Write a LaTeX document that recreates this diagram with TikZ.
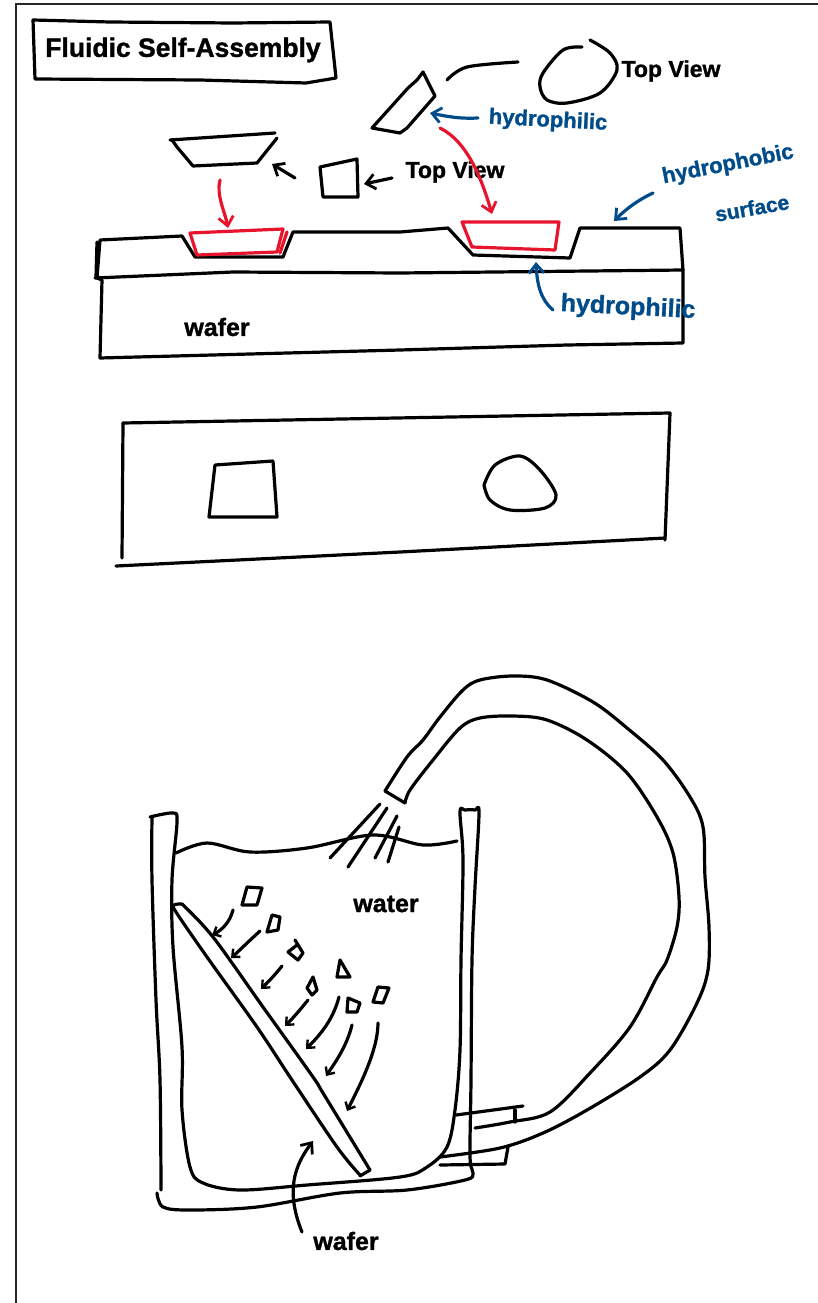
\documentclass[tikz,border=0pt]{standalone}
\usepackage{fontspec}
\setmainfont[FakeBold=1.2]{Liberation Sans}
\usetikzlibrary{arrows.meta}
\definecolor{penblue}{HTML}{004C8A}
\definecolor{penred}{HTML}{E8142D}
\tikzset{
  pen/.style={black,line width=3.2pt,line cap=round,line join=round},
  curve/.style={pen,smooth,tension=.55},
  redpen/.style={pen,penred},
  bluepen/.style={pen,penblue},
  barb/.style={-{Straight Barb[length=9pt,width=15pt,line width=2.8pt]}},
  smallbarb/.style={-{Straight Barb[length=6pt,width=11pt,line width=2.4pt]}},
  txt/.style={inner sep=0pt,font=\bfseries\fontsize{25}{25}\selectfont},
  bluetxt/.style={txt,text=penblue,font=\bfseries\fontsize{22}{22}\selectfont},
  frame/.style={line width=2pt,draw=black!85}
}
\begin{document}
\begin{tikzpicture}[x=1pt,y=-1pt]
\useasboundingbox (0,0) rectangle (818,1303);
\fill[white] (0,0) rectangle (818,1303);
% page edge
\draw[frame] (16,1303) -- (16,4) -- (818,4);
% title
\draw[pen] (33,20) -- (110,22) -- (233,23) -- (330,22) -- (336,78) -- (306,83) -- (200,80) -- (35,79) -- cycle;
\node[txt,font=\bfseries\fontsize{26.5}{26.5}\selectfont] (title) at (183,50) {Fluidic Self-Assembly};

% ---- first section: chips
\draw[pen] (170,140) -- (275,133);
\draw[pen] (277,138) -- (257,163) -- (193,166) -- (177,147) -- (172,140);
\coordinate (sqA) at (320,167);
\draw[pen] (sqA) -- (357,159) -- (358,197) -- (323,197) -- cycle;
\coordinate (a1s) at (295,178); \coordinate (a1e) at (272,164);
\draw[pen,barb] (a1s) -- (a1e);
\node[txt,font=\bfseries\fontsize{23}{23}\selectfont] (tv1) at (455,172) {Top View};
\coordinate (a2s) at (392,178); \coordinate (a2e) at (364,184);
\draw[pen,barb] (a2s) -- (a2e);
% tilted chip
\draw[pen] (372,128) -- (408,88) -- (417,80) -- (423,72) -- (435,96) -- (407,128) -- (400,133) -- cycle;
\draw[curve] plot coordinates {(447,80) (467,67) (518,62)};
\draw[curve] plot coordinates {(582,47) (563,50) (543,73) (540,87) (547,100) (567,103) (600,93) (617,70) (610,53) (590,40)};
\node[txt,font=\bfseries\fontsize{23}{23}\selectfont] (tv2) at (671,71) {Top View};
% red arrows
\coordinate (r1s) at (220,180); \coordinate (r1e) at (228,228);
\draw[redpen,barb] (r1s) .. controls (216,195) and (225,212) .. (r1e);
\coordinate (r2s) at (440,128); \coordinate (r2e) at (492,214);
\draw[redpen,barb] (r2s) .. controls (468,142) and (482,180) .. (r2e);
% layer
\draw[pen] (100,240) -- (182,236) -- (195,257) -- (283,257) -- (293,232) -- (400,232) -- (448,228) -- (473,255) -- (570,258) -- (580,228) -- (680,228) -- (683,270) -- (683,343) -- (567,345) -- (400,350) -- (100,358) -- (102,280) -- (97,278) -- cycle;
\draw[pen] (95,278) -- (233,272) -- (400,273) -- (683,270);
\draw[pen] (97,242) -- (96,277);
% red chips
\draw[redpen] (190,233) -- (283,229) -- (277,252) -- (197,255) -- cycle;
\draw[redpen] (287,232) -- (280,253);
\draw[redpen] (462,222) -- (559,222) -- (555,250) -- (472,247) -- cycle;
\node[txt,font=\bfseries\fontsize{25}{25}\selectfont] (waf1) at (217,327) {wafer};
% blue labels
\node[bluetxt,rotate=-3] (phil1) at (548,121) {hydrophilic};
\coordinate (b1s) at (478,118); \coordinate (b1e) at (430,113);
\draw[bluepen,barb] (b1s) .. controls (458,119) and (445,116) .. (b1e);
\node[bluetxt,rotate=11] (phob) at (728,165) {hydrophobic};
\node[bluetxt,rotate=10,font=\bfseries\fontsize{21}{21}\selectfont] (surf) at (752,208) {surface};
\coordinate (b2s) at (653,193); \coordinate (b2e) at (614,221);
\draw[bluepen,barb] (b2s) .. controls (638,200) and (626,209) .. (b2e);
\node[bluetxt,rotate=-3,font=\bfseries\fontsize{25}{25}\selectfont] (phil2) at (628,308) {hydrophilic};
\coordinate (b3s) at (553,310); \coordinate (b3e) at (536,262);
\draw[bluepen,barb] (b3s) .. controls (541,300) and (537,285) .. (b3e);

% ---- second section: top view
\draw[pen] (123,423) -- (670,413) -- (665,540);
\draw[pen] (123,423) -- (122,558);
\draw[pen] (116,566) -- (400,552) -- (665,538);
\draw[pen] (215,465) -- (273,461) -- (277,517) -- (209,517) -- cycle;
\draw[curve] plot coordinates {(484,485) (495,465) (520,456) (540,470) (556,495) (545,508) (510,510) (490,500) (484,485)};

% ---- third section: bath
\draw[curve] plot coordinates {(152,818) (152,880) (156,1000) (160,1080) (161,1190)};
\draw[curve] plot coordinates {(150,817) (173,813) (177,822) (172,880) (173,947) (182,1047) (182,1110) (190,1167) (203,1183) (240,1190) (307,1185) (400,1177) (427,1167) (447,1147) (455,1110) (460,1050) (461,960) (463,860) (460,812) (465,810) (475,810) (479,813) (475,887) (472,960) (471,1080) (470,1157) (473,1173) (465,1180) (407,1190) (340,1193) (257,1207) (190,1210) (163,1207) (157,1193)};
% water surface
\draw[curve] plot coordinates {(176,853) (207,843) (250,852) (307,848) (373,835) (423,845) (457,841)};
% tube
\draw[pen] (385,791) -- (405,803);
\draw[curve] plot coordinates {(385,791) (407,757) (423,740) (440,717) (463,690) (480,680) (513,676) (547,680) (593,702) (627,728) (663,760) (690,797) (703,827) (705,877) (709,927) (708,970) (697,1003) (670,1050) (640,1077) (587,1110) (543,1133) (500,1148) (440,1157)};
\draw[curve] plot coordinates {(405,803) (410,790) (433,760) (460,728) (480,718) (513,716) (547,720) (587,740) (627,773) (657,817) (673,853) (679,897) (677,927) (667,960) (657,977) (630,1027) (590,1073) (550,1112) (510,1122) (475,1128)};
\draw[pen] (456,1115) -- (523,1106);
\draw[pen] (515,1110) -- (515,1122);
\draw[pen] (440,1165) -- (505,1164) -- (508,1147);
% jets
\draw[pen] (380,804) -- (330,858);
\draw[pen] (387,808) -- (348,867);
\draw[pen] (397,816) -- (375,858);
\draw[pen] (399,827) -- (388,862);
\node[txt,font=\bfseries\fontsize{25}{25}\selectfont] (water) at (386,904) {water};
% wafer plate
\draw[curve] plot coordinates {(182,904) (213,937) (263,1007) (313,1077) (323,1093) (370,1170)};
\draw[curve] plot coordinates {(182,904) (174,905) (176,912) (207,957) (257,1027) (290,1077) (337,1147) (360,1175)};
\draw[pen] (360,1176) -- (370,1170);
% small chips
\draw[pen] (247,887) -- (262,888) -- (257,905) -- (242,905) -- cycle;
\draw[pen] (272,915) -- (280,917) -- (278,930) -- (267,932) -- cycle;
\draw[pen] (295,940) -- (303,953) -- (298,960) -- (288,952) -- (297,945);
\draw[pen] (340,960) -- (350,977) -- (337,977) -- cycle;
\draw[pen] (313,977) -- (317,990) -- (312,995) -- (307,988) -- cycle;
\draw[pen] (348,998) -- (360,1003) -- (357,1012) -- (347,1012) -- cycle;
\draw[pen] (378,987) -- (389,988) -- (383,1003) -- (373,1002) -- cycle;
% small arrows
\foreach \n/\sx/\sy/\cax/\cay/\cbx/\cby/\ex/\ey in {
  s1/233/910/230/922/222/930/212/935,
  s2/260/931/250/940/240/950/231/958,
  s3/282/966/275/975/268/982/261/989,
  s4/308/1000/300/1010/293/1018/285/1026,
  s5/339/997/333/1020/320/1035/306/1049,
  s6/352/1025/347/1045/337/1060/326/1076,
  s7/378/1023/378/1050/360/1085/347/1111}{
  \coordinate (\n s) at (\sx,\sy); \coordinate (\n e) at (\ex,\ey);
  \draw[pen,smallbarb] (\n s) .. controls (\cax,\cay) and (\cbx,\cby) .. (\n e);
}
% wafer label
\node[txt,font=\bfseries\fontsize{25}{25}\selectfont] (waf2) at (346,1241) {wafer};
\coordinate (w1s) at (302,1232); \coordinate (w1e) at (313,1141);
\draw[pen,barb] (w1s) .. controls (285,1190) and (295,1165) .. (w1e);
\end{tikzpicture}
\end{document}
